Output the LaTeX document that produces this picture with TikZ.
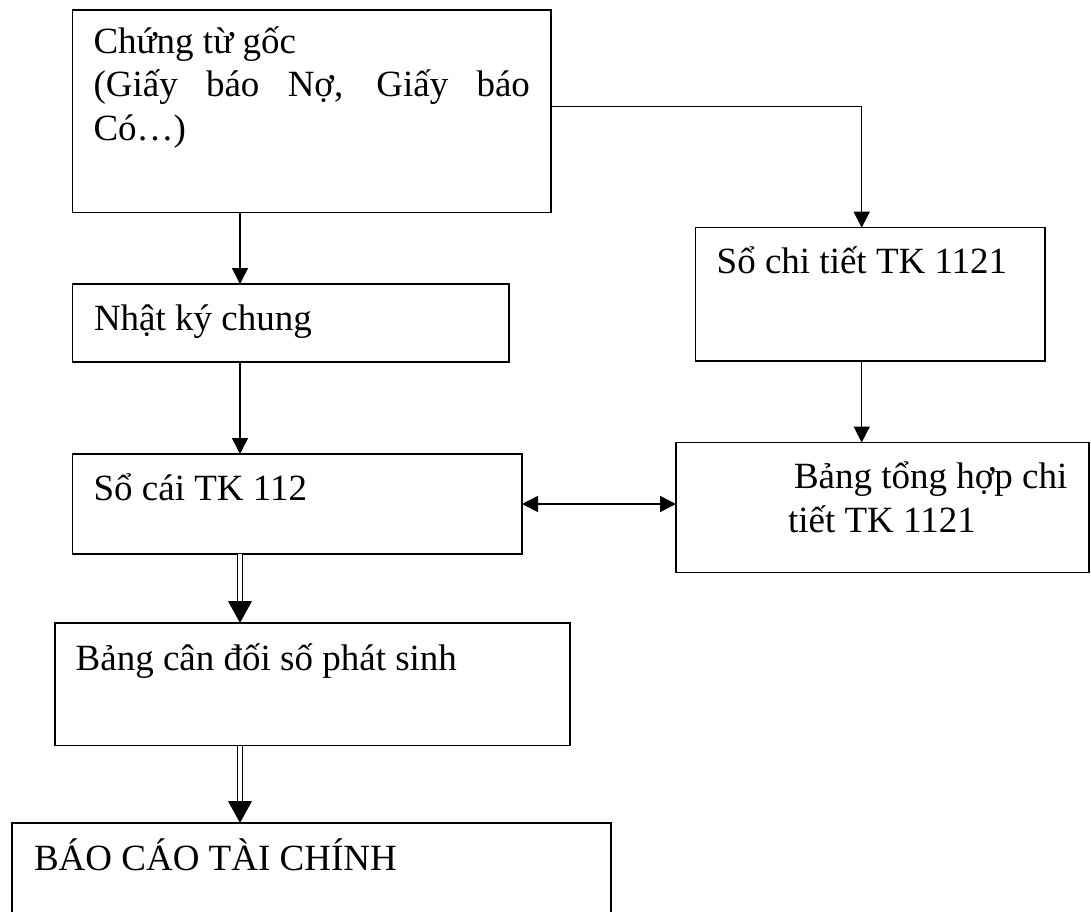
\documentclass[tikz,border=0pt]{standalone}
\usepackage{fontspec}
\setmainfont{Liberation Serif}
\usetikzlibrary{arrows.meta,calc}
\begin{document}
\begin{tikzpicture}[x=1pt,y=-1pt,
  box/.style={draw,line width=1.5pt,anchor=north west,inner sep=0pt,outer sep=0pt},
  txt/.style={anchor=base west,inner sep=0pt,outer sep=0pt,font=\fontsize{37}{43.5}\selectfont},
  arr/.style={line width=1.5pt,-{Triangle[length=16pt,width=16pt]}},
  biarr/.style={line width=1.5pt,{Triangle[length=16pt,width=16pt]}-{Triangle[length=16pt,width=16pt]}},
  dbl/.style={double,line width=1.3pt,double distance=4pt,shorten >=20pt}]
\useasboundingbox (0,0) rectangle (1091,911);
\fill[white] (0,0) rectangle (1091,911);

% boxes
\node[box,minimum width=478.3pt,minimum height=202.5pt] (b1) at (72.7,10) {};
\node[box,minimum width=436.3pt,minimum height=78pt] (b2) at (72.7,284) {};
\node[box,minimum width=449.3pt,minimum height=100pt] (b3) at (72.7,454) {};
\node[box,minimum width=515pt,minimum height=122.5pt] (b4) at (55,623) {};
\node[box,minimum width=599pt,minimum height=150pt] (b5) at (12,823) {};
\node[box,minimum width=349.3pt,minimum height=133.3pt] (b6) at (695.7,227.7) {};
\node[box,minimum width=413pt,minimum height=130pt] (b7) at (676,442.5) {};

% texts
\node[txt] (t1a) at (93.5,53) {Chứng từ gốc};
\node[txt] (t1b) at (93.5,96.5) {\makebox[436.5pt][s]{(Giấy báo Nợ, Giấy báo}};
\node[txt] (t1c) at (93.5,140) {Có…)};
\node[txt] (t2) at (94,330) {Nhật ký chung};
\node[txt] (t3) at (93.6,500) {Sổ cái TK 112};
\node[txt] (t4) at (75.7,670) {Bảng cân đối số phát sinh};
\node[txt] (t5) at (34,870) {BÁO CÁO TÀI CHÍNH};
\node[txt] (t6) at (716.7,273.3) {Sổ chi tiết TK 1121};
\node[txt] (t7a) at (794,488) {Bảng tổng hợp chi};
\node[txt] (t7b) at (788,532) {tiết TK 1121};

% guide coordinates
\coordinate (ax) at (240,0);
\coordinate (rx) at (861.7,106.7);
\coordinate (hy) at (0,504);

% connectors
\draw[arr] (b1.south -| ax) -- (b2.north -| ax);
\draw[arr] (b2.south -| ax) -- (b3.north -| ax);
\draw[arr] (b1.east |- rx) -| (b6.north -| rx);
\draw[arr] (b6.south -| rx) -- (b7.north -| rx);
\draw[biarr] (b3.east |- hy) -- (b7.west |- hy);

\draw[dbl] (b3.south -| ax) -- (b4.north -| ax);
\fill ($(b4.north -| ax)+(-12,-22)$) -- (b4.north -| ax) -- ($(b4.north -| ax)+(12,-22)$) -- cycle;
\draw[dbl] (b4.south -| ax) -- (b5.north -| ax);
\fill ($(b5.north -| ax)+(-12,-22)$) -- (b5.north -| ax) -- ($(b5.north -| ax)+(12,-22)$) -- cycle;
\end{tikzpicture}
\end{document}
